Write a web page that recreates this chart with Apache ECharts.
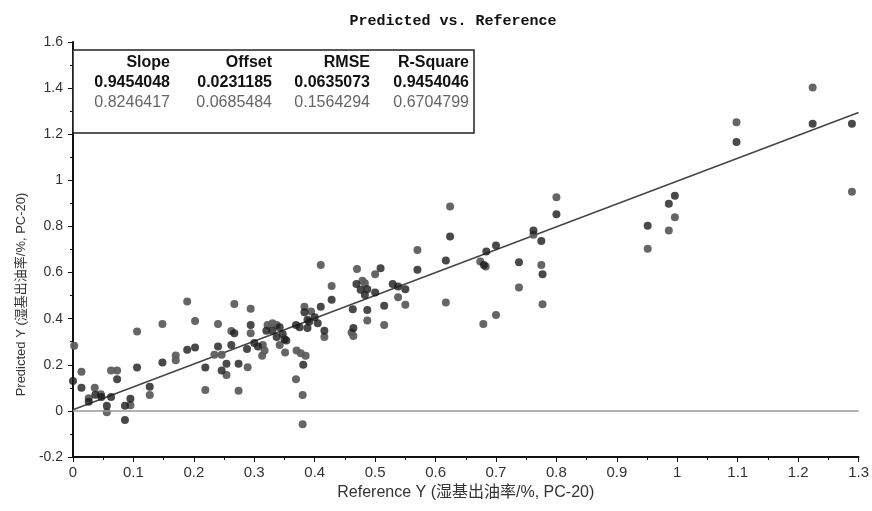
<!DOCTYPE html>
<html>
<head>
<meta charset="utf-8">
<script src="https://cdn.jsdelivr.net/npm/echarts@6/dist/echarts.min.js"></script>
<style>
  html, body { margin: 0; padding: 0; background: #fff; }
  #chart1 { width: 872px; height: 511px; }
</style>
</head>
<body>
<div id="chart1"></div>
<script>
// calibration points (dark)
var calPoints = [
    [0.000, 0.130], [0.014, 0.100], [0.026, 0.040], [0.037, 0.070], [0.047, 0.060],
    [0.056, 0.022], [0.073, 0.137], [0.063, 0.060], [0.086, 0.022], [0.086, -0.039],
    [0.095, 0.053], [0.106, 0.188], [0.127, 0.105], [0.148, 0.210], [0.189, 0.265],
    [0.202, 0.275], [0.219, 0.188], [0.267, 0.337], [0.294, 0.373], [0.240, 0.279],
    [0.262, 0.286], [0.254, 0.204], [0.246, 0.175], [0.274, 0.204], [0.288, 0.268],
    [0.300, 0.294], [0.306, 0.279], [0.320, 0.348], [0.330, 0.348], [0.337, 0.320],
    [0.347, 0.334], [0.353, 0.305], [0.369, 0.373], [0.375, 0.363], [0.381, 0.200],
    [0.383, 0.428], [0.410, 0.452], [0.428, 0.482], [0.391, 0.387], [0.405, 0.380],
    [0.416, 0.348], [0.400, 0.406], [0.388, 0.395], [0.388, 0.359], [0.342, 0.363],
    [0.350, 0.311], [0.509, 0.619], [0.469, 0.550], [0.476, 0.525], [0.487, 0.528],
    [0.483, 0.503], [0.500, 0.513], [0.529, 0.550], [0.538, 0.539], [0.550, 0.528],
    [0.515, 0.456], [0.487, 0.438], [0.463, 0.441], [0.464, 0.359], [0.624, 0.756],
    [0.570, 0.612], [0.617, 0.652], [0.684, 0.691], [0.700, 0.717], [0.680, 0.633],
    [0.738, 0.645], [0.762, 0.782], [0.775, 0.737], [0.777, 0.593], [0.800, 0.853],
    [0.951, 0.803], [0.986, 0.898], [0.996, 0.933], [1.098, 1.166], [1.224, 1.245],
    [1.289, 1.245]
];

// validation points (gray)
var valPoints = [
    [0.002, 0.283], [0.014, 0.170], [0.026, 0.055], [0.036, 0.100], [0.046, 0.072],
    [0.056, -0.006], [0.063, 0.175], [0.073, 0.175], [0.095, 0.025], [0.106, 0.344],
    [0.127, 0.069], [0.148, 0.377], [0.170, 0.240], [0.170, 0.220], [0.189, 0.474],
    [0.202, 0.390], [0.219, 0.091], [0.267, 0.464], [0.294, 0.443], [0.240, 0.377],
    [0.262, 0.347], [0.294, 0.337], [0.234, 0.243], [0.246, 0.243], [0.254, 0.156],
    [0.289, 0.189], [0.314, 0.286], [0.313, 0.239], [0.317, 0.262], [0.274, 0.087],
    [0.322, 0.373], [0.330, 0.380], [0.337, 0.373], [0.342, 0.286], [0.351, 0.253],
    [0.370, 0.262], [0.377, 0.250], [0.385, 0.239], [0.369, 0.137], [0.380, 0.069],
    [0.383, 0.452], [0.394, 0.431], [0.428, 0.542], [0.416, 0.320], [0.380, -0.058],
    [0.410, 0.633], [0.470, 0.615], [0.500, 0.593], [0.479, 0.565], [0.483, 0.554],
    [0.538, 0.493], [0.550, 0.460], [0.487, 0.392], [0.515, 0.373], [0.461, 0.340],
    [0.464, 0.325], [0.624, 0.886], [0.570, 0.698], [0.617, 0.470], [0.674, 0.648],
    [0.683, 0.626], [0.679, 0.377], [0.700, 0.416], [0.738, 0.535], [0.762, 0.764],
    [0.775, 0.633], [0.777, 0.463], [0.800, 0.927], [0.951, 0.703], [0.996, 0.840],
    [0.986, 0.782], [1.098, 1.252], [1.224, 1.403], [1.289, 0.951]
];

// regression line end points
var fitLine = [[0, 0.005], [1.3, 1.294]];

// statistics table
var statHeaders = ['Slope', 'Offset', 'RMSE', 'R-Square'];
var calStats = ['0.9454048', '0.0231185', '0.0635073', '0.9454046'];
var valStats = ['0.8246417', '0.0685484', '0.1564294', '0.6704799'];

var chart = echarts.init(document.getElementById('chart1'));

var baseFont = '"Liberation Sans", Arial, "Noto Sans CJK SC", sans-serif';
var colX = [170, 272, 370, 469];
var rowY = [63, 83, 103];

var tableItems = [{
    type: 'rect',
    shape: { x: 73, y: 50, width: 401, height: 83 },
    style: { fill: '#fff', stroke: '#222', lineWidth: 1.5 },
    z: 10
}];
[statHeaders, calStats, valStats].forEach(function (row, r) {
    row.forEach(function (txt, c) {
        tableItems.push({
            type: 'text',
            x: colX[c],
            y: rowY[r],
            z: 11,
            style: {
                text: txt,
                align: 'right',
                verticalAlign: 'middle',
                font: (r < 2 ? 'bold ' : '') + '16px ' + baseFont,
                fill: r === 2 ? '#666' : '#111'
            }
        });
    });
});

var option = {
    animation: false,
    backgroundColor: '#fff',
    title: {
        text: 'Predicted vs. Reference',
        left: 448,
        top: 9,
        textAlign: 'center',
        textStyle: {
            fontFamily: '"Liberation Mono", "Courier New", monospace',
            fontWeight: 'bold',
            fontSize: 15,
            color: '#111'
        }
    },
    grid: { left: 73, right: 11, top: 42, bottom: 54 },
    xAxis: {
        type: 'value',
        min: 0,
        max: 1.3,
        interval: 0.1,
        name: 'Reference Y (湿基出油率/%, PC-20)',
        nameLocation: 'middle',
        nameGap: 27,
        nameTextStyle: { fontFamily: baseFont, fontSize: 16, color: '#333' },
        axisLine: { onZero: false, lineStyle: { color: '#111', width: 2 } },
        axisTick: { length: 5, lineStyle: { color: '#111' } },
        minorTick: { show: true, splitNumber: 2, length: 3, lineStyle: { color: '#111' } },
        axisLabel: { fontFamily: baseFont, fontSize: 15, color: '#333', margin: 8 },
        splitLine: { show: false }
    },
    yAxis: {
        type: 'value',
        min: -0.2,
        max: 1.6,
        interval: 0.2,
        name: 'Predicted Y (湿基出油率/%, PC-20)',
        nameLocation: 'middle',
        nameGap: 45,
        nameTextStyle: { fontFamily: baseFont, fontSize: 13, color: '#333', padding: [0, 90, 0, 0] },
        axisLine: { show: true, onZero: false, lineStyle: { color: '#111', width: 2 } },
        axisTick: { show: true, length: 5, lineStyle: { color: '#111' } },
        minorTick: { show: true, splitNumber: 2, length: 3, lineStyle: { color: '#111' } },
        axisLabel: { fontFamily: baseFont, fontSize: 14, color: '#333', margin: 10 },
        splitLine: { show: false }
    },
    series: [{
        name: 'validation',
        type: 'scatter',
        data: valPoints,
        symbolSize: 8,
        itemStyle: { color: '#5e5e5e', opacity: 0.95 },
        markLine: {
            silent: true,
            symbol: 'none',
            label: { show: false },
            lineStyle: { color: '#999', type: 'solid', width: 1.5 },
            data: [{ yAxis: 0 }]
        }
    }, {
        name: 'calibration',
        type: 'scatter',
        data: calPoints,
        symbolSize: 8,
        itemStyle: { color: '#1c1c1c' }
    }, {
        name: 'fit',
        type: 'line',
        data: fitLine,
        symbol: 'none',
        lineStyle: { color: '#444', width: 1.5 },
        z: 1
    }],
    graphic: tableItems
};

chart.setOption(option);
</script>
</body>
</html>
